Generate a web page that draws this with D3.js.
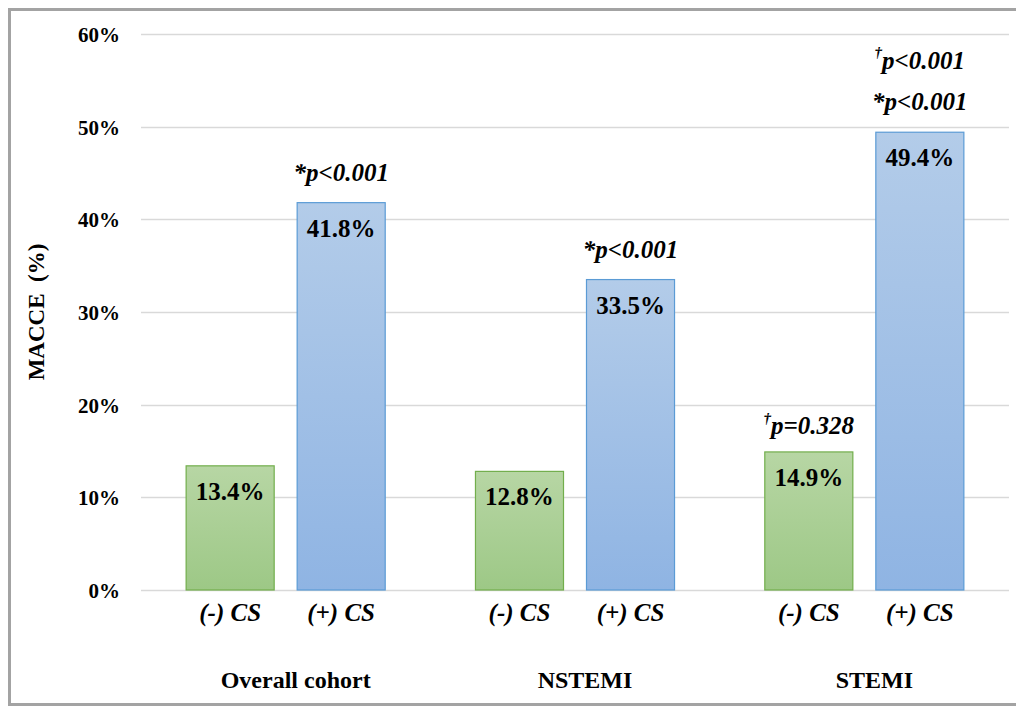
<!DOCTYPE html>
<html lang="en">
<head>
<meta charset="UTF-8" />
<title>MACCE by CS</title>
<script src="https://cdn.jsdelivr.net/npm/d3@7"></script>
<style>
  body { margin: 0; background: #fff; }
  svg text { font-family: "Liberation Serif", "Times New Roman", Times, Tinos, serif; font-weight: bold; fill: #000; }
</style>
</head>
<body>
<div id="chart"></div>
<script>
// data
var groups = ["Overall cohort", "NSTEMI", "STEMI"];
var subgroups = ["(-) CS", "(+) CS"];
var negValues = [13.4, 12.8, 14.9];
var posValues = [41.8, 33.5, 49.4];
var yTicks = [0, 10, 20, 30, 40, 50, 60];
// p-value notes over each bar: [mark, text] lines, bottom line last
var negNotes = [[], [], [["\u2020", "p=0.328"]]];
var posNotes = [[["*", "p<0.001"]], [["*", "p<0.001"]], [["\u2020", "p<0.001"], ["*", "p<0.001"]]];

var w = 1016, h = 706;
var pLeft = 141, pRight = 1009, pTop = 34, pBottom = 590;
var serif = "'Liberation Serif', 'Times New Roman', Times, Tinos, serif";

var svg = d3.select("#chart").append("svg")
  .attr("width", w)
  .attr("height", h)
  .attr("font-family", serif);

// frame
svg.append("path")
  .attr("d", "M1016,9.5 H9.5 V704.5 H1016")
  .attr("fill", "none")
  .attr("stroke", "#a3a3a3")
  .attr("stroke-width", 3);

// gradients
var defs = svg.append("defs");
function grad(id, c1, c2) {
  var g = defs.append("linearGradient").attr("id", id)
    .attr("x1", 0).attr("y1", 0).attr("x2", 0).attr("y2", 1);
  g.append("stop").attr("offset", "0%").attr("stop-color", c1);
  g.append("stop").attr("offset", "100%").attr("stop-color", c2);
}
grad("gGreen", "#b7d6a4", "#9dc886");
grad("gBlue", "#b3cce9", "#8fb4e3");

var yScale = d3.scaleLinear().domain([0, 60]).range([pBottom, pTop]);
var x0 = d3.scaleBand().domain(groups).range([pLeft, pRight]).padding(0);
var x1 = d3.scaleBand().domain(subgroups).range([0, x0.bandwidth()])
  .paddingInner(0.198).paddingOuter(0.402);

// gridlines
svg.append("g").selectAll("line")
  .data(yTicks)
  .enter().append("line")
  .attr("x1", pLeft).attr("x2", pRight)
  .attr("y1", function(d) { return Math.round(yScale(d)) + 0.5; })
  .attr("y2", function(d) { return Math.round(yScale(d)) + 0.5; })
  .attr("stroke", "#d9d9d9")
  .attr("stroke-width", 1.5);

// y axis labels
var yAxis = d3.axisLeft(yScale).tickValues(yTicks)
  .tickFormat(function(d) { return d + "%"; })
  .tickSize(0).tickPadding(21);
var yg = svg.append("g").attr("transform", "translate(" + pLeft + ",0)").call(yAxis);
yg.attr("font-family", serif);
yg.select(".domain").remove();
yg.selectAll("text")
  .attr("dy", "0.35em")
  .style("font-size", "21px")
  .style("font-weight", "bold");

svg.append("text")
  .attr("transform", "translate(44,312) rotate(-90)")
  .attr("text-anchor", "middle")
  .style("font-size", "23px")
  .style("white-space", "pre")
  .text("MACCE  (%)");

// bars
var rows = [];
groups.forEach(function(g, i) {
  rows.push({ group: g, sub: subgroups[0], value: negValues[i], notes: negNotes[i], fill: "url(#gGreen)", stroke: "#72ae4c" });
  rows.push({ group: g, sub: subgroups[1], value: posValues[i], notes: posNotes[i], fill: "url(#gBlue)", stroke: "#5b9bd5" });
});

function bx(d) { return x0(d.group) + x1(d.sub); }

svg.append("g").selectAll("rect")
  .data(rows)
  .enter().append("rect")
  .attr("x", function(d) { return bx(d) + 0.5; })
  .attr("y", function(d) { return yScale(d.value); })
  .attr("width", x1.bandwidth() - 1)
  .attr("height", function(d) { return yScale(0) - yScale(d.value); })
  .attr("fill", function(d) { return d.fill; })
  .attr("stroke", function(d) { return d.stroke; })
  .attr("stroke-width", 1.2);

// value labels inside bars
svg.append("g").selectAll("text")
  .data(rows)
  .enter().append("text")
  .attr("x", function(d) { return bx(d) + x1.bandwidth() / 2; })
  .attr("y", function(d) { return yScale(d.value) + 34; })
  .attr("text-anchor", "middle")
  .style("font-size", "25px")
  .text(function(d) { return d.value.toFixed(1) + "%"; });

// p-value notes
rows.forEach(function(d) {
  var n = d.notes.length;
  d.notes.forEach(function(line, j) {
    var t = svg.append("text")
      .attr("x", bx(d) + x1.bandwidth() / 2)
      .attr("y", yScale(d.value) - 22 - (n - 1 - j) * 46)
      .attr("text-anchor", "middle")
      .style("font-size", "25px")
      .style("font-style", "italic");
    if (line[0] === "\u2020") {
      t.append("tspan").attr("dy", "-0.45em").style("font-size", "15px").text(line[0]);
      t.append("tspan").attr("dy", "0.45em").text(line[1]);
    } else {
      t.text(line[0] + line[1]);
    }
  });
});

// sub category labels
svg.append("g").selectAll("text")
  .data(rows)
  .enter().append("text")
  .attr("x", function(d) { return bx(d) + x1.bandwidth() / 2; })
  .attr("y", 621)
  .attr("text-anchor", "middle")
  .style("font-size", "25px")
  .style("font-style", "italic")
  .text(function(d) { return d.sub; });

// group labels
svg.append("g").selectAll("text")
  .data(groups)
  .enter().append("text")
  .attr("x", function(d) { return x0(d) + x0.bandwidth() / 2 + 10; })
  .attr("y", 688)
  .attr("text-anchor", "middle")
  .style("font-size", "24px")
  .text(function(d) { return d; });
</script>
</body>
</html>
